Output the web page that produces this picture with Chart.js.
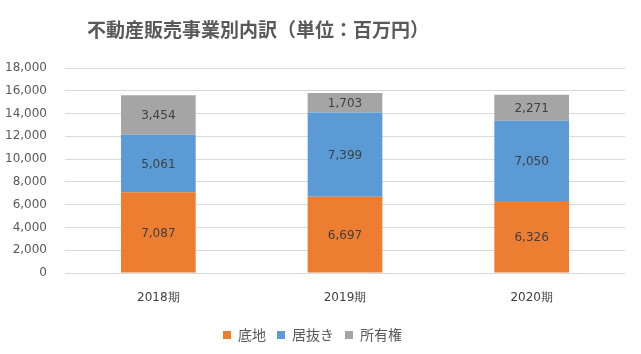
<!DOCTYPE html>
<html><head><meta charset="utf-8">
<script src="https://cdn.jsdelivr.net/npm/chart.js@4.4.1/dist/chart.umd.min.js"></script>
<style>html,body{margin:0;padding:0;background:#fff}#wrap{width:641px;height:354px}</style>
</head><body><div id="wrap"><canvas id="c" width="641" height="354"></canvas></div>
<script>
const categories = ['2018期', '2019期', '2020期'];
const sokochi = [7087, 6697, 6326];
const inuki = [5061, 7399, 7050];
const shoyuken = [3454, 1703, 2271];
const seriesNames = ['底地', '居抜き', '所有権'];
const titleText = '不動産販売事業別内訳（単位：百万円）';
const yTicksMax = 18000;
const yStep = 2000;

const labelPlugin = {
  id: 'valLabels',
  afterDatasetsDraw(chart) {
    const ctx = chart.ctx;
    ctx.save();
    ctx.font = '12px "DejaVu Sans", sans-serif';
    ctx.fillStyle = '#404040';
    ctx.textAlign = 'center';
    ctx.textBaseline = 'middle';
    chart.data.datasets.forEach((ds, i) => {
      const meta = chart.getDatasetMeta(i);
      meta.data.forEach((bar, j) => {
        const v = ds.data[j];
        const y = (bar.y + bar.base) / 2;
        ctx.fillText(v.toLocaleString('en-US'), bar.x, y + 1);
      });
    });
    ctx.restore();
  }
};

const titlePlugin = {
  id: 'sideTitle',
  afterDraw(chart) {
    const ctx = chart.ctx;
    ctx.save();
    ctx.font = 'bold 19px "Noto Sans CJK JP", sans-serif';
    ctx.fillStyle = '#595959';
    ctx.textAlign = 'center';
    ctx.textBaseline = 'middle';
    ctx.fillText(titleText, 258, 30);
    ctx.restore();
  }
};

new Chart(document.getElementById('c'), {
  type: 'bar',
  data: {
    labels: categories,
    datasets: [
      { label: seriesNames[0], data: sokochi, backgroundColor: '#ED7D31' },
      { label: seriesNames[1], data: inuki, backgroundColor: '#5B9BD5' },
      { label: seriesNames[2], data: shoyuken, backgroundColor: '#A5A5A5' }
    ]
  },
  options: {
    responsive: false,
    animation: false,
    layout: { padding: { left: 0, right: 16, top: 68, bottom: 2 } },
    datasets: { bar: { categoryPercentage: 1, barPercentage: 0.4 } },
    plugins: {
      title: { display: false },
      legend: {
        position: 'bottom',
        labels: {
          boxWidth: 8, boxHeight: 8, color: '#595959',
          font: { size: 14, family: '"Noto Sans CJK JP", sans-serif' },
          padding: 11
        }
      },
      tooltip: { enabled: false }
    },
    scales: {
      x: {
        stacked: true,
        grid: { display: false },
        border: { display: false },
        afterFit(s) { s.height = 44; },
        ticks: { color: '#404040', font: { size: 12, family: '"DejaVu Sans", sans-serif' }, padding: 10 }
      },
      y: {
        stacked: true,
        min: 0, max: yTicksMax,
        afterFit(s) { s.width = 65; },
        ticks: {
          stepSize: yStep, color: '#595959', padding: 18,
          font: { size: 12, family: '"DejaVu Sans", sans-serif' },
          callback: v => v.toLocaleString('en-US')
        },
        grid: { color: '#D9D9D9', drawTicks: false },
        border: { display: false }
      }
    }
  },
  plugins: [labelPlugin, titlePlugin]
});
</script></body></html>
